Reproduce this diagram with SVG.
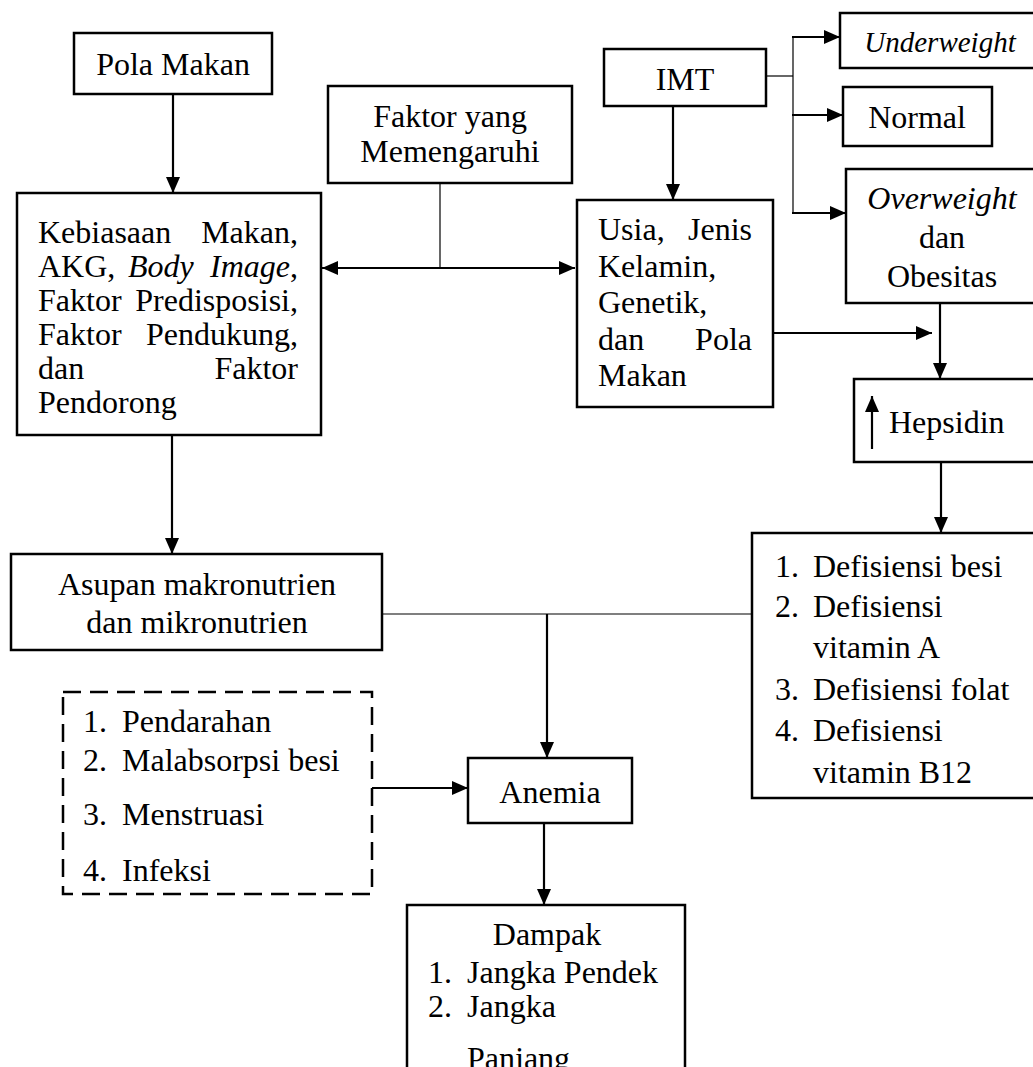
<svg xmlns="http://www.w3.org/2000/svg" width="1033" height="1067" viewBox="0 0 1033 1067">
<style>
.box{fill:#fff;stroke:#000;stroke-width:2.5}
.dash{fill:#fff;stroke:#000;stroke-width:2.5;stroke-dasharray:18 9}
.t{font-family:"Liberation Serif","Times New Roman",serif;font-size:32px;fill:#000}
.c{text-anchor:middle}
.e{text-anchor:end}
.i{font-style:italic}
.arr{fill:none;stroke:#000;stroke-width:2.2;marker-end:url(#ah)}
.thin{fill:none;stroke:#000;stroke-width:1.2}
</style>
<defs>
<marker id="ah" viewBox="0 0 16 14" refX="16" refY="7" markerWidth="16" markerHeight="14" markerUnits="userSpaceOnUse" orient="auto-start-reverse">
<path d="M0,0 L16,7 L0,14 z" fill="#000"/>
</marker>
</defs>
<rect width="1033" height="1067" fill="#fff"/>

<g id="connectors">
<line class="arr" x1="173" y1="94" x2="173" y2="193"/>
<line class="arr" x1="172" y1="435" x2="172" y2="554"/>
<line class="thin" x1="440" y1="183" x2="440" y2="268"/>
<line class="arr" x1="322" y1="268" x2="575" y2="268" style="marker-start:url(#ah)"/>
<line class="arr" x1="673" y1="106" x2="673" y2="200"/>
<polyline class="thin" points="766,76 793,76"/>
<line class="thin" x1="793" y1="37" x2="793" y2="214"/>
<line class="arr" x1="792" y1="37" x2="840" y2="37"/>
<line class="arr" x1="792" y1="115" x2="843" y2="115"/>
<line class="arr" x1="792" y1="213" x2="846" y2="213"/>
<line class="arr" x1="773" y1="333" x2="932" y2="333"/>
<line class="arr" x1="940" y1="303" x2="940" y2="379"/>
<line class="arr" x1="941" y1="462" x2="941" y2="533"/>
<line class="thin" x1="382" y1="614" x2="752" y2="614"/>
<line class="arr" x1="547" y1="614" x2="547" y2="758"/>
<line class="arr" x1="372" y1="788" x2="468" y2="788"/>
<line class="arr" x1="544" y1="823" x2="544" y2="905"/>
</g>

<g id="pola-makan">
<rect class="box" x="74" y="33" width="198" height="61"/>
<text class="t c" x="173" y="75">Pola Makan</text>
</g>

<g id="faktor">
<rect class="box" x="328" y="86" width="244" height="97"/>
<text class="t c" x="450" y="127">Faktor yang</text>
<text class="t c" x="450" y="162">Memengaruhi</text>
</g>

<g id="imt">
<rect class="box" x="604" y="49" width="162" height="57"/>
<text class="t c" x="685" y="90">IMT</text>
</g>

<g id="underweight">
<rect class="box" x="840" y="13" width="200" height="55"/>
<text class="t c i" x="940" y="52" style="font-size:29px">Underweight</text>
</g>

<g id="normal">
<rect class="box" x="843" y="87" width="149" height="59"/>
<text class="t c" x="917" y="128">Normal</text>
</g>

<g id="overweight">
<rect class="box" x="846" y="169" width="200" height="134"/>
<text class="t c i" x="942" y="209">Overweight</text>
<text class="t c" x="942" y="248">dan</text>
<text class="t c" x="942" y="287">Obesitas</text>
</g>

<g id="kebiasaan">
<rect class="box" x="17" y="193" width="304" height="242"/>
<text class="t" x="38" y="243">Kebiasaan</text>
<text class="t e" x="298" y="243">Makan,</text>
<text class="t" x="38" y="277">AKG,</text>
<text class="t i" x="128" y="277">Body</text>
<text class="t e" x="298" y="277"><tspan class="i">Image</tspan>,</text>
<text class="t" x="38" y="311">Faktor</text>
<text class="t e" x="298" y="311">Predisposisi,</text>
<text class="t" x="38" y="345">Faktor</text>
<text class="t e" x="298" y="345">Pendukung,</text>
<text class="t" x="38" y="379">dan</text>
<text class="t e" x="298" y="379">Faktor</text>
<text class="t" x="38" y="413">Pendorong</text>
</g>

<g id="usia">
<rect class="box" x="577" y="200" width="196" height="207"/>
<text class="t" x="598" y="240">Usia,</text>
<text class="t e" x="752" y="240">Jenis</text>
<text class="t" x="598" y="276.5">Kelamin,</text>
<text class="t" x="598" y="313">Genetik,</text>
<text class="t" x="598" y="349.5">dan</text>
<text class="t e" x="752" y="349.5">Pola</text>
<text class="t" x="598" y="386">Makan</text>
</g>

<g id="hepsidin">
<rect class="box" x="854" y="379" width="200" height="83"/>
<line class="arr" x1="872" y1="449" x2="872" y2="396"/>
<text class="t" x="889" y="433">Hepsidin</text>
</g>

<g id="defisiensi">
<rect class="box" x="752" y="533" width="300" height="265"/>
<text class="t" x="775" y="577">1.</text>
<text class="t" x="813" y="577">Defisiensi besi</text>
<text class="t" x="775" y="617">2.</text>
<text class="t" x="813" y="617">Defisiensi</text>
<text class="t" x="813" y="658">vitamin A</text>
<text class="t" x="775" y="700">3.</text>
<text class="t" x="813" y="700">Defisiensi folat</text>
<text class="t" x="775" y="741">4.</text>
<text class="t" x="813" y="741">Defisiensi</text>
<text class="t" x="813" y="783">vitamin B12</text>
</g>

<g id="asupan">
<rect class="box" x="11" y="554" width="371" height="96"/>
<text class="t c" x="197" y="595">Asupan makronutrien</text>
<text class="t c" x="197" y="633">dan mikronutrien</text>
</g>

<g id="penyebab-lain">
<rect class="dash" x="63" y="692" width="309" height="202"/>
<text class="t" x="83" y="732">1.</text>
<text class="t" x="122" y="732">Pendarahan</text>
<text class="t" x="83" y="771">2.</text>
<text class="t" x="122" y="771">Malabsorpsi besi</text>
<text class="t" x="83" y="825">3.</text>
<text class="t" x="122" y="825">Menstruasi</text>
<text class="t" x="83" y="881">4.</text>
<text class="t" x="122" y="881">Infeksi</text>
</g>

<g id="anemia">
<rect class="box" x="468" y="758" width="164" height="65"/>
<text class="t c" x="550" y="803">Anemia</text>
</g>

<g id="dampak">
<rect class="box" x="407" y="905" width="278" height="200"/>
<text class="t c" x="547" y="945">Dampak</text>
<text class="t" x="428" y="983">1.</text>
<text class="t" x="467" y="983">Jangka Pendek</text>
<text class="t" x="428" y="1017">2.</text>
<text class="t" x="467" y="1017">Jangka</text>
<text class="t" x="467" y="1069">Panjang</text>
</g>
</svg>
